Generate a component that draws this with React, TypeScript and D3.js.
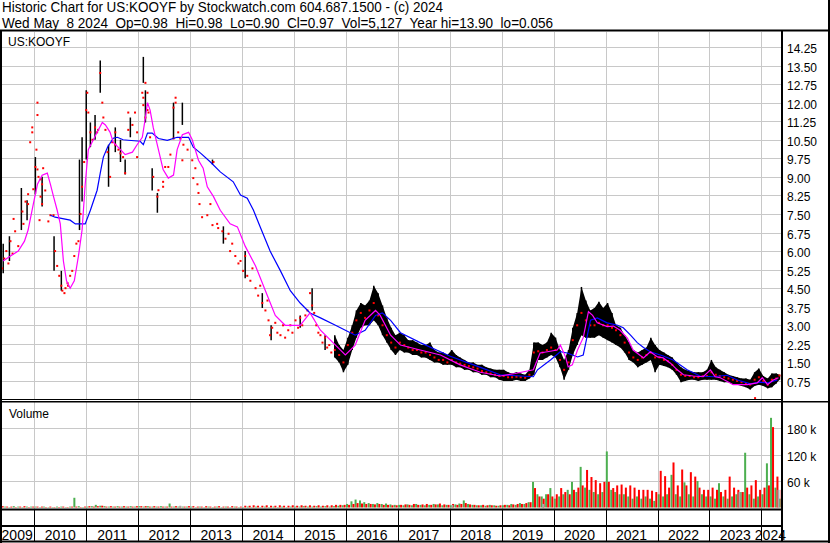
import React from 'react';
import * as d3 from 'd3';

// header text
const headerLine1 = 'Historic Chart for US:KOOYF by Stockwatch.com 604.687.1500 - (c) 2024';
const headerLine2 = 'Wed May  8 2024  Op=0.98  Hi=0.98  Lo=0.90  Cl=0.97  Vol=5,127  Year hi=13.90  lo=0.056';
const symbol = 'US:KOOYF';

// axis ticks
const priceTicks = [0.75, 1.5, 2.25, 3, 3.75, 4.5, 5.25, 6, 6.75, 7.5, 8.25, 9, 9.75, 10.5, 11.25, 12, 12.75, 13.5, 14.25];
const priceTickLabels = ['0.75', '1.50', '2.25', '3.00', '3.75', '4.50', '5.25', '6.00', '6.75', '7.50', '8.25', '9.00', '9.75', '10.50', '11.25', '12.00', '12.75', '13.50', '14.25'];
const volTicks = [60, 120, 180];
const volTickLabels = ['60 k', '120 k', '180 k'];
const years = [2009, 2010, 2011, 2012, 2013, 2014, 2015, 2016, 2017, 2018, 2019, 2020, 2021, 2022, 2023, 2024];

// sparse trading 2009-2015: closes (decimal year, price)
const earlyTimes = [
  2009.38, 2009.42, 2009.46, 2009.5, 2009.54, 2009.58, 2009.6, 2009.63, 2009.69, 2009.77, 2009.79, 2009.83, 2009.88, 2009.88, 2009.92, 2009.96, 2009.96, 2009.98,
  2010.02, 2010.04, 2010.06, 2010.06, 2010.06, 2010.08, 2010.1, 2010.12, 2010.12, 2010.15, 2010.15, 2010.17, 2010.21, 2010.27, 2010.31, 2010.37, 2010.4, 2010.44,
  2010.48, 2010.52, 2010.54, 2010.58, 2010.6, 2010.64, 2010.65, 2010.69, 2010.73, 2010.77, 2010.81, 2010.85, 2010.89, 2010.92, 2010.96,
  2011.0, 2011.02, 2011.04, 2011.08, 2011.12, 2011.17, 2011.21, 2011.23, 2011.27, 2011.31, 2011.33, 2011.37, 2011.41, 2011.46, 2011.5, 2011.56, 2011.56,
  2011.62, 2011.66, 2011.71, 2011.75, 2011.81, 2011.81, 2011.89, 2011.94, 2011.98, 2011.98,
  2012.08, 2012.1, 2012.1, 2012.14, 2012.14, 2012.18, 2012.18, 2012.2, 2012.23, 2012.29, 2012.37, 2012.39, 2012.48, 2012.48, 2012.52, 2012.58, 2012.62,
  2012.68, 2012.68, 2012.72, 2012.72, 2012.77, 2012.81, 2012.85, 2012.87, 2012.95,
  2013.04, 2013.06, 2013.1, 2013.14, 2013.16, 2013.18, 2013.23, 2013.33, 2013.39, 2013.43, 2013.45, 2013.52, 2013.54, 2013.62, 2013.68, 2013.74, 2013.77,
  2013.81, 2013.87, 2013.93, 2013.97,
  2014.02, 2014.06, 2014.1, 2014.16, 2014.2, 2014.26, 2014.31, 2014.35, 2014.39, 2014.45, 2014.49, 2014.51, 2014.54, 2014.58, 2014.64, 2014.68, 2014.74,
  2014.79, 2014.83, 2014.89, 2014.93, 2014.97,
  2015.03, 2015.08, 2015.12, 2015.16, 2015.22, 2015.26, 2015.31, 2015.35, 2015.39, 2015.43, 2015.47, 2015.51, 2015.55, 2015.6, 2015.64, 2015.68, 2015.72,
];
const earlyClose = [
  5.3, 5.7, 6.0, 5.5, 6.4, 5.9, 7.3, 6.8, 6.2, 7.6, 7.1, 8.0, 8.3, 7.9, 10.4, 11.0, 10.8, 8.5,
  9.4, 10.1, 12.0, 11.5, 9.3, 9.0, 7.25, 8.9, 8.2, 8.7, 7.9, 9.35, 8.45, 7.2, 7.45, 7.45, 6.0, 5.4,
  5.0, 4.6, 4.4, 4.3, 4.5, 4.7, 4.6, 5.0, 5.2, 5.8, 6.3, 6.4, 7.5, 8.6, 9.6,
  11.7, 12.4, 11.6, 10.8, 10.5, 11.0, 10.8, 10.9, 13.2, 12.0, 11.4, 10.9, 10.0, 9.0, 10.4, 10.8, 10.3,
  10.1, 9.95, 9.8, 9.15, 11.6, 10.9, 11.1, 11.6, 10.8, 9.8,
  12.4, 12.2, 11.9, 12.8, 11.4, 12.4, 11.7, 11.6, 10.6, 9.0, 8.2, 8.46, 8.8, 8.6, 9.4, 9.4, 9.9,
  10.55, 11.8, 12.2, 12.0, 10.8, 10.55, 9.67, 10.3, 10.1,
  9.67, 8.95, 9.35, 8.7, 8.35, 7.9, 7.37, 7.45, 7.9, 7.05, 9.6, 7.1, 6.93, 6.8, 6.5, 6.7, 6.0,
  6.3, 5.8, 5.5, 5.6,
  5.2, 5.8, 5.0, 4.8, 5.3, 4.5, 4.2, 4.6, 3.9, 3.6, 4.0, 3.2, 2.6, 2.9, 3.1, 2.7, 2.6,
  3.0, 2.5, 2.8, 3.0, 2.7,
  3.2, 2.9, 3.3, 3.0, 3.4, 3.6, 4.3, 3.8, 3.5, 3.0, 2.7, 2.6, 2.3, 2.5, 2.1, 2.2, 1.9,
];

// sparse trading 2009-2015: day ranges
const barTimes = [2009.4, 2009.52, 2009.75, 2009.86, 2010.02, 2010.15, 2010.38, 2010.52, 2010.87, 2010.92, 2011.0, 2011.08, 2011.17, 2011.27, 2011.43, 2011.56, 2011.66, 2011.75, 2011.85, 2012.1, 2012.14, 2012.27, 2012.37, 2012.68, 2012.85, 2013.43, 2013.64, 2014.06, 2014.39, 2014.56, 2015.12, 2015.35, 2015.6];
const barHi = [6.3, 6.6, 8.55, 8.05, 9.8, 9.0, 6.6, 5.2, 9.7, 10.6, 12.5, 11.2, 11.5, 13.7, 10.3, 11.0, 10.5, 9.7, 11.4, 13.85, 12.5, 9.35, 8.35, 12.0, 12.0, 9.7, 7.0, 6.0, 4.3, 3.0, 3.4, 4.5, 2.6];
const barLo = [5.1, 5.6, 6.85, 7.25, 8.3, 7.8, 5.2, 4.4, 6.85, 8.0, 9.7, 10.2, 10.5, 12.4, 8.6, 10.0, 9.6, 9.1, 10.6, 12.8, 11.2, 8.45, 7.55, 10.55, 11.1, 9.5, 6.3, 4.9, 3.7, 2.4, 2.9, 3.6, 2.0];

// active trading from Oct 2015: monthly high / low / close
const denseStartYear = 2015;
const denseStartMonth = 9; // October
const denseHi = [
  2.6, 2.2, 2.0,
  2.5, 3.0, 3.6, 3.9, 3.8, 4.0, 4.6, 4.3, 3.8, 3.3, 2.9, 2.6,
  2.7, 2.6, 2.4, 2.4, 2.3, 2.2, 2.2, 2.3, 2.0, 1.9, 1.9, 1.8,
  2.0, 1.8, 1.7, 1.6, 1.5, 1.5, 1.4, 1.4, 1.3, 1.25, 1.2, 1.2,
  1.2, 1.1, 1.05, 1.1, 1.05, 1.0, 1.2, 2.3, 2.3, 2.2, 2.3, 2.7,
  2.5, 2.0, 1.6, 2.0, 2.9, 3.5, 4.55, 4.0, 3.6, 3.7, 3.95, 3.7,
  3.9, 3.5, 3.0, 2.9, 2.6, 2.3, 2.0, 1.9, 2.0, 2.1, 2.5, 2.2,
  2.0, 1.9, 1.8, 1.7, 1.5, 1.3, 1.2, 1.15, 1.1, 1.1, 1.1, 1.2,
  1.6, 1.3, 1.2, 1.1, 1.0, 0.95, 0.9, 0.85, 0.85, 0.8, 1.1, 1.25,
  0.95, 0.85, 1.05, 1.05, 1.0,
];
const denseLo = [
  1.7, 1.5, 1.1,
  1.4, 2.0, 2.5, 2.9, 3.0, 3.0, 3.2, 3.0, 2.6, 2.3, 2.0, 1.8,
  2.0, 1.9, 1.9, 1.8, 1.8, 1.7, 1.7, 1.6, 1.5, 1.5, 1.4, 1.4,
  1.4, 1.3, 1.3, 1.2, 1.2, 1.1, 1.1, 1.0, 1.0, 0.9, 0.9, 0.8,
  0.75, 0.75, 0.75, 0.8, 0.75, 0.75, 0.85, 1.0, 1.6, 1.6, 1.7, 1.8,
  1.7, 1.3, 0.8, 1.2, 1.8, 2.2, 2.6, 2.5, 2.5, 2.5, 2.6, 2.5,
  2.4, 2.3, 2.2, 2.1, 1.9, 1.6, 1.5, 1.3, 1.4, 1.5, 1.6, 1.1,
  1.4, 1.35, 1.3, 1.2, 1.0, 0.7, 0.75, 0.8, 0.8, 0.75, 0.8, 0.8,
  0.8, 0.8, 0.75, 0.7, 0.7, 0.6, 0.6, 0.55, 0.5, 0.4, 0.55, 0.6,
  0.55, 0.45, 0.5, 0.65, 0.8,
];
const denseClose = [
  2.0, 1.8, 1.5,
  2.2, 2.7, 3.2, 3.5, 3.3, 3.6, 3.9, 3.4, 3.0, 2.6, 2.3, 2.1,
  2.3, 2.2, 2.1, 2.0, 2.0, 1.9, 1.9, 1.8, 1.7, 1.6, 1.6, 1.5,
  1.6, 1.5, 1.45, 1.4, 1.35, 1.3, 1.25, 1.15, 1.1, 1.05, 1.0, 0.95,
  0.95, 0.9, 0.9, 0.92, 0.9, 0.88, 1.0, 1.9, 1.95, 1.9, 2.0, 2.1,
  2.0, 1.6, 1.2, 1.5, 2.4, 3.0, 3.5, 3.2, 3.0, 3.0, 3.1, 3.0,
  3.0, 2.9, 2.8, 2.6, 2.3, 1.9, 1.7, 1.6, 1.7, 1.8, 1.9, 1.7,
  1.7, 1.6, 1.55, 1.4, 1.2, 1.0, 0.95, 0.95, 0.9, 0.9, 0.95, 0.95,
  1.1, 1.0, 0.95, 0.9, 0.85, 0.8, 0.75, 0.7, 0.65, 0.6, 0.8, 0.9,
  0.75, 0.6, 0.8, 0.85, 0.97,
];

// the year's low print
const oddTimes = [2023.88];
const oddClose = [0.056];

// short moving average (magenta)
const fastTimes = [
  2009.4, 2009.54, 2009.69, 2009.81, 2009.88, 2009.98, 2010.06, 2010.15, 2010.25, 2010.31, 2010.37, 2010.44, 2010.5, 2010.56, 2010.62, 2010.69, 2010.77,
  2010.85, 2010.92, 2010.98, 2011.04, 2011.21, 2011.31, 2011.37, 2011.46, 2011.52, 2011.66, 2011.75, 2011.89, 2011.98, 2012.08, 2012.14, 2012.18, 2012.23,
  2012.29, 2012.39, 2012.48, 2012.58, 2012.68, 2012.75, 2012.85, 2012.97, 2013.04, 2013.16, 2013.25, 2013.33, 2013.45, 2013.58, 2013.77, 2013.91, 2014.06,
  2014.26, 2014.45, 2014.64, 2014.83, 2015.12, 2015.31, 2015.51, 2015.8, 2015.99, 2016.18, 2016.37, 2016.57, 2016.66, 2016.86, 2017.05, 2017.43, 2017.82,
  2018.2, 2018.59, 2018.97, 2019.26, 2019.61, 2019.74, 2019.88, 2020.07, 2020.13, 2020.23, 2020.28, 2020.36, 2020.46, 2020.57, 2020.67, 2020.75, 2020.84,
  2021.03, 2021.15, 2021.28, 2021.42, 2021.53, 2021.73, 2021.86, 2022.0, 2022.11, 2022.25, 2022.38, 2022.5, 2022.69, 2022.88, 2023.02, 2023.11, 2023.21,
  2023.46, 2023.73, 2023.92, 2024.02, 2024.12, 2024.23, 2024.33,
];
const fastValues = [
  5.6, 5.8, 6.0, 6.4, 6.85, 7.9, 8.7, 9.07, 9.15, 8.7, 8.2, 7.65, 7.1, 5.6, 4.8, 4.5, 4.8,
  5.8, 6.85, 8.7, 10.1, 10.8, 11.2, 11.1, 10.8, 10.4, 10.1, 9.9, 10.0, 10.3, 10.6, 11.4, 12.0, 11.7,
  11.0, 10.1, 9.3, 8.95, 9.07, 10.1, 10.7, 10.8, 10.5, 9.67, 9.35, 8.6, 8.2, 7.65, 7.1, 6.98, 6.2,
  5.4, 4.4, 3.4, 3.0, 3.0, 3.5, 2.8, 2.2, 1.8, 2.2, 3.2, 3.6, 3.4, 2.6, 2.2, 2.0, 1.8,
  1.4, 1.1, 0.95, 1.05, 1.2, 1.88, 1.93, 2.0, 2.2, 1.72, 1.32, 1.4, 2.0, 2.5, 3.55, 3.4, 3.1,
  2.95, 2.97, 2.8, 2.48, 2.0, 1.68, 1.93, 1.72, 1.68, 1.47, 1.2, 1.0, 0.95, 0.92, 1.2, 0.92, 0.88,
  0.6, 0.6, 0.67, 0.88, 0.6, 0.79, 0.88,
];

// long moving average (blue)
const slowTimes = [
  2010.31, 2010.4, 2010.69, 2010.79, 2010.98, 2011.08, 2011.21, 2011.27, 2011.33, 2011.41, 2011.52, 2011.6, 2011.71, 2011.81, 2012.04, 2012.1, 2012.18,
  2012.27, 2012.39, 2012.56, 2012.75, 2012.97, 2013.06, 2013.2, 2013.39, 2013.58, 2013.83, 2013.97, 2014.1, 2014.22, 2014.35, 2014.54, 2014.74, 2014.93,
  2015.12, 2015.31, 2015.51, 2015.8, 2015.99, 2016.18, 2016.37, 2016.57, 2016.7, 2016.86, 2017.05, 2017.43, 2018.01, 2018.59, 2018.97, 2019.61, 2019.69,
  2019.94, 2020.13, 2020.26, 2020.46, 2020.57, 2020.67, 2020.71, 2020.84, 2021.03, 2021.23, 2021.34, 2021.48, 2021.61, 2021.73, 2021.86, 2022.11, 2022.3,
  2022.57, 2022.82, 2023.08, 2023.34, 2023.54, 2023.79, 2023.98, 2024.12, 2024.31,
];
const slowValues = [
  7.45, 7.37, 7.25, 7.1, 7.1, 7.65, 8.46, 9.15, 9.8, 10.2, 10.56, 10.6, 10.5, 10.48, 10.44, 10.3, 10.77,
  10.77, 10.55, 10.48, 10.6, 10.6, 10.2, 9.96, 9.6, 9.2, 8.8, 8.27, 8.14, 7.65, 6.97, 6.0, 5.2, 4.4,
  3.9, 3.5, 3.3, 3.0, 2.8, 2.6, 2.8, 3.4, 3.5, 3.2, 2.7, 2.3, 1.75, 1.3, 1.0, 0.92, 1.2,
  1.6, 1.93, 1.88, 1.72, 1.8, 2.8, 3.21, 3.3, 3.1, 3.0, 2.9, 2.6, 2.3, 2.1, 1.93, 1.76, 1.6,
  1.2, 0.95, 0.92, 0.98, 0.79, 0.63, 0.7, 0.67, 0.79,
];

// monthly volume in thousands from May 2009: up days (green) and down days (red)
const volStartYear = 2009;
const volStartMonth = 4; // May
const volUp = [
  1, 2, 1, 3, 2, 1, 2, 2,
  2, 1, 2, 1, 1, 2, 2, 1, 2, 22, 3, 1,
  2, 3, 6, 4, 3, 2, 2, 3, 2, 2, 3, 2,
  3, 2, 3, 2, 2, 3, 2, 9, 2, 2, 2, 2,
  2, 1, 2, 1, 2, 1, 2, 1, 2, 1, 2, 1,
  1, 2, 1, 2, 1, 2, 1, 2, 1, 2, 1, 2,
  2, 2, 3, 2, 2, 3, 2, 3, 2, 3, 4, 5,
  8, 14, 18, 16, 12, 10, 8, 10, 8, 9, 7, 6,
  6, 5, 7, 5, 8, 6, 5, 6, 8, 7, 5, 6,
  5, 7, 9, 16, 8, 6, 5, 5, 4, 6, 5, 4,
  5, 6, 8, 6, 10, 8, 12, 58, 30, 25, 30, 44,
  20, 25, 30, 40, 58, 35, 92, 45, 40, 35, 30, 35,
  127, 40, 35, 30, 30, 25, 20, 25, 20, 25, 20, 15,
  30, 25, 30, 74, 30, 25, 57, 30, 25, 60, 30, 25,
  25, 20, 55, 25, 20, 25, 30, 35, 124, 30, 20, 25,
  30, 100, 203, 45, 20,
];
const volDown = [
  3, 2, 2, 1, 2, 3, 1, 2,
  2, 2, 1, 2, 1, 1, 2, 1, 2, 2, 1, 2,
  3, 2, 3, 4, 2, 3, 2, 2, 3, 2, 2, 3,
  3, 3, 2, 3, 2, 2, 2, 2, 3, 2, 2, 3,
  3, 2, 2, 3, 2, 2, 3, 2, 2, 3, 2, 2,
  4, 4, 5, 4, 4, 5, 4, 4, 5, 4, 4, 5,
  4, 5, 4, 5, 4, 5, 4, 5, 5, 6, 6, 6,
  6, 8, 10, 9, 8, 8, 7, 8, 6, 6, 5, 5,
  6, 7, 6, 8, 6, 7, 8, 6, 7, 9, 7, 6,
  8, 6, 8, 10, 7, 6, 5, 6, 5, 5, 4, 5,
  6, 5, 7, 8, 8, 10, 12, 44, 25, 20, 30, 25,
  30, 44, 35, 30, 40, 45, 50, 85, 69, 62, 55, 58,
  58, 44, 50, 52, 45, 50, 45, 40, 40, 40, 38, 35,
  83, 71, 45, 102, 50, 86, 50, 80, 70, 45, 40, 40,
  45, 40, 35, 40, 70, 45, 40, 35, 45, 50, 62, 40,
  45, 50, 182, 70, 40,
];
// unchanged days (grey)
const flatTimes = [2012.81, 2018.05, 2019.8, 2023.58, 2024.33];
const flatVol = [4, 6, 8, 35, 40];

const W = 830;
const H = 543;
const plotL = 2;
const plotR = 781;
const priceTop = 32;
const priceBot = 399;
const volTop = 402;
const volBot = 509;
const font = '"Liberation Sans", Arial, sans-serif';
const gridColor = '#c8c8c8';

const fromYear = (t: number) => {
  const y = Math.floor(t);
  const a = new Date(y, 0, 1).getTime();
  const b = new Date(y + 1, 0, 1).getTime();
  return new Date(a + (t - y) * (b - a));
};

export default function App() {
  const x = d3.scaleTime().domain([new Date(2009, 4, 8), new Date(2024, 4, 8)]).range([0.5, 779.5]);
  const y = d3.scaleLinear().domain([0, 14.25]).range([399.5, 47]);
  const yv = d3.scaleLinear().domain([0, 180]).range([507.5, 428]);
  const endX = x.range()[1];

  const dense = denseHi.map((hi, i) => {
    const d = new Date(denseStartYear, denseStartMonth + i, 15);
    return { d: d > x.domain()[1] ? x.domain()[1] : d, hi, lo: denseLo[i], close: denseClose[i] };
  });
  const band = d3
    .area<{ d: Date; hi: number; lo: number }>()
    .x((p) => x(p.d))
    .y0((p) => y(p.lo))
    .y1((p) => y(p.hi));

  const lineFast = d3
    .line<number>()
    .x((_, i) => x(fromYear(fastTimes[i])))
    .y((v) => y(v));
  const lineSlow = d3
    .line<number>()
    .x((_, i) => x(fromYear(slowTimes[i])))
    .y((v) => y(v));

  const yearStarts = years.slice(1).map((yr) => x(new Date(yr, 0, 1)));
  const yearLabelX = years.map((yr) => {
    const a = Math.max(x(new Date(yr, 0, 1)), 0);
    const b = Math.min(x(new Date(yr + 1, 0, 1)), endX);
    return (a + b) / 2;
  });

  const monthX = (i: number) => x(new Date(volStartYear, volStartMonth + i, 1));

  const dot = (t: Date, v: number, k: string) => (
    <rect key={k} x={x(t) - 1} y={y(v) - 1} width={2} height={2} fill="#ff0000" />
  );

  return (
    <svg
      width={W}
      height={H}
      style={{ position: 'absolute', left: 0, top: 0, background: '#fff' }}
      fontFamily={font}
    >
      <defs>
        <clipPath id="clipPrice">
          <rect x={plotL} y={priceTop} width={plotR - plotL} height={priceBot - priceTop} />
        </clipPath>
        <clipPath id="clipVol">
          <rect x={plotL} y={volTop} width={plotR - plotL} height={volBot - volTop} />
        </clipPath>
      </defs>
      <rect width={W} height={H} fill="#fff" />

      {/* header */}
      <text x={2} y={11.5} fontSize={14} fill="#000" textLength={441} lengthAdjust="spacingAndGlyphs" style={{ whiteSpace: 'pre' }}>
        {headerLine1}
      </text>
      <text x={2} y={27.5} fontSize={14} fill="#000" textLength={551} lengthAdjust="spacingAndGlyphs" style={{ whiteSpace: 'pre' }}>
        {headerLine2}
      </text>

      {/* grid */}
      {priceTicks.map((t) => (
        <line key={'pg' + t} x1={plotL} x2={plotR} y1={Math.round(y(t)) + 0.5} y2={Math.round(y(t)) + 0.5} stroke={gridColor} />
      ))}
      {volTicks.map((t) => (
        <line key={'vg' + t} x1={plotL} x2={plotR} y1={Math.round(yv(t)) + 0.5} y2={Math.round(yv(t)) + 0.5} stroke={gridColor} />
      ))}
      {yearStarts.map((gx, i) => (
        <g key={'yg' + i}>
          <line x1={Math.round(gx) + 0.5} x2={Math.round(gx) + 0.5} y1={priceTop} y2={priceBot} stroke={gridColor} />
          <line x1={Math.round(gx) + 0.5} x2={Math.round(gx) + 0.5} y1={volTop} y2={volBot} stroke={gridColor} />
        </g>
      ))}

      {/* price */}
      <g clipPath="url(#clipPrice)">
        {barTimes.map((t, i) => (
          <line key={'eb' + i} x1={x(fromYear(t))} x2={x(fromYear(t))} y1={y(barHi[i])} y2={y(barLo[i])} stroke="#000" strokeWidth={1.5} />
        ))}
        <path d={band(dense) ?? ''} fill="#000" />
        {dense.map((p, i) => (
          <line key={'db' + i} x1={x(p.d)} x2={x(p.d)} y1={y(p.hi)} y2={y(p.lo)} stroke="#000" strokeWidth={1.5} />
        ))}
        {earlyTimes.map((t, i) => dot(fromYear(t), earlyClose[i], 'ed' + i))}
        {dense.map((p, i) => dot(p.d, p.close, 'dd' + i))}
        {oddTimes.map((t, i) => dot(fromYear(t), oddClose[i], 'od' + i))}
        <path d={lineSlow(slowValues) ?? ''} fill="none" stroke="#0000ff" strokeWidth={1.2} />
        <path d={lineFast(fastValues) ?? ''} fill="none" stroke="#ff00ff" strokeWidth={1.2} />
      </g>

      {/* volume */}
      <g clipPath="url(#clipVol)">
        {volUp.map((v, i) => (
          <rect key={'vu' + i} x={monthX(i) + 0.2} y={yv(v)} width={2} height={yv(0) - yv(v)} fill="#4caf50" />
        ))}
        {volDown.map((v, i) => (
          <rect key={'vd' + i} x={monthX(i) + 2.2} y={yv(v)} width={2} height={yv(0) - yv(v)} fill="#ff0000" />
        ))}
        {flatTimes.map((t, i) => (
          <rect key={'vf' + i} x={x(fromYear(t)) - 1} y={yv(flatVol[i])} width={2} height={yv(0) - yv(flatVol[i])} fill="#a8a8a8" />
        ))}
      </g>

      {/* panel labels */}
      <text x={8} y={46} fontSize={12} fill="#000">{symbol}</text>
      <text x={9} y={417.5} fontSize={12} fill="#000">Volume</text>

      {/* right axis */}
      {priceTicks.map((t, i) => (
        <text key={'pl' + t} x={787} y={y(t) + 6} fontSize={12} fill="#000">
          {priceTickLabels[i]}
        </text>
      ))}
      {volTicks.map((t, i) => (
        <text key={'vl' + t} x={787} y={yv(t) + 6} fontSize={12} fill="#000">
          {volTickLabels[i]}
        </text>
      ))}

      {/* year strip */}
      {yearStarts.map((gx, i) => (
        <line key={'ys' + i} x1={Math.round(gx) + 0.5} x2={Math.round(gx) + 0.5} y1={510} y2={541} stroke="#000" />
      ))}
      {years.map((yr, i) => (
        <text key={'yl' + yr} x={yearLabelX[i]} y={539.5} fontSize={14} textAnchor="middle" fill="#000">
          {yr}
        </text>
      ))}

      {/* frame */}
      <g stroke="#000">
        <line x1={0} x2={W} y1={30.5} y2={30.5} strokeWidth={2} />
        <line x1={1} x2={1} y1={30} y2={H} strokeWidth={2} />
        <line x1={829} x2={829} y1={0} y2={H} strokeWidth={2} />
        <line x1={782} x2={782} y1={30} y2={542} strokeWidth={2} />
        <line x1={0} x2={782} y1={399.5} y2={399.5} strokeWidth={1} />
        <line x1={0} x2={W} y1={401.8} y2={401.8} strokeWidth={1.5} />
        <line x1={0} x2={782} y1={509.5} y2={509.5} strokeWidth={2} />
        <line x1={0} x2={782} y1={526} y2={526} strokeWidth={2} />
        <line x1={0} x2={W} y1={541.5} y2={541.5} strokeWidth={2} />
      </g>
    </svg>
  );
}
